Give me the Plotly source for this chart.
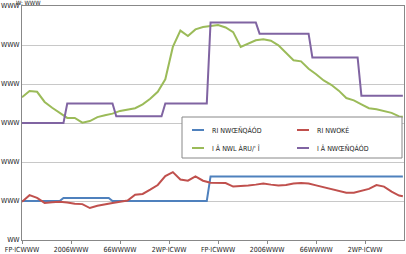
import plotly.graph_objects as go

# ---- data ----
weeks = list(range(0, 102))
weeks_2 = list(range(0, 101, 2)) + [101]

blue_vals = [1.0] * 11 + [1.08] * 13 + [1.0] * 26 + [1.63] * 52
purple_vals = ([3.0] * 12 + [3.5] * 13 + [3.17] * 13 + [3.5] * 12 +
               [5.58] * 13 + [5.29] * 14 + [4.68] * 13 + [3.70] * 12)

red_vals = [0.98, 1.15, 1.08, 0.95, 0.97, 0.98, 0.96, 0.93, 0.92, 0.82,
            0.88, 0.92, 0.95, 0.98, 1.01, 1.16, 1.18, 1.29, 1.41, 1.64,
            1.74, 1.55, 1.52, 1.63, 1.52, 1.47, 1.47, 1.46, 1.37, 1.38,
            1.40, 1.42, 1.45, 1.42, 1.40, 1.41, 1.45, 1.46, 1.45, 1.40,
            1.35, 1.30, 1.25, 1.21, 1.21, 1.27, 1.31, 1.41, 1.37, 1.24,
            1.14, 1.12]
green_vals = [3.66, 3.82, 3.80, 3.54, 3.39, 3.25, 3.13, 3.13, 3.01, 3.05,
              3.15, 3.20, 3.24, 3.31, 3.35, 3.38, 3.48, 3.62, 3.80, 4.12,
              4.95, 5.37, 5.23, 5.40, 5.46, 5.48, 5.51, 5.45, 5.33, 4.95,
              5.03, 5.12, 5.15, 5.11, 4.99, 4.80, 4.61, 4.58, 4.39, 4.25,
              4.09, 3.98, 3.83, 3.64, 3.58, 3.48, 3.38, 3.35, 3.31, 3.26,
              3.17, 3.16]

series_names = ["RI NWŒÑQÁÓD", "RI NWOKÉ", "I Â NWL ÀRU/' Î", "I Â NWŒÑQÁÓD"]

x_tickvals = [0, 13, 26, 39, 52, 65, 78, 91]
x_ticktext = ["FP·ICWWW", "2006WWW", "66WWWW", "2WP·ICWW",
              "FP·ICWWW", "2006WWW", "66WWWW", "2WP·ICWW"]
y_tickvals = [0, 1, 2, 3, 4, 5, 6]
y_ticktext = ["WW", "WWW", "WWW", "WWW", "WWW", "WWW", "WWW"]
unit_label = "W: WWW"

colors = ["#4F81BD", "#C0504D", "#9BBB59", "#8064A2"]

fig = go.Figure()
fig.add_trace(go.Scatter(x=weeks, y=blue_vals, mode="lines", name=series_names[0],
                         line=dict(color=colors[0], width=2)))
fig.add_trace(go.Scatter(x=weeks_2, y=red_vals, mode="lines", name=series_names[1],
                         line=dict(color=colors[1], width=2)))
fig.add_trace(go.Scatter(x=weeks_2, y=green_vals, mode="lines", name=series_names[2],
                         line=dict(color=colors[2], width=2)))
fig.add_trace(go.Scatter(x=weeks, y=purple_vals, mode="lines", name=series_names[3],
                         line=dict(color=colors[3], width=2)))

# ---- manual two-column legend (paper coordinates) ----
W, H = 406, 254
ML, MR, MT, MB = 22, 2, 6, 14
PW, PH = W - ML - MR, H - MT - MB


def px(xpix):
    return (xpix - ML) / PW


def py(ypix):
    return (H - MB - ypix) / PH


shapes = [dict(type="rect", xref="paper", yref="paper",
               x0=px(182), x1=px(402), y0=py(158), y1=py(117),
               fillcolor="white", line=dict(color="#888", width=1), layer="above")]
annotations = []
slots = [(192, 130), (297, 130), (192, 148), (297, 148)]
for i, (sx, sy) in enumerate(slots):
    shapes.append(dict(type="line", xref="paper", yref="paper",
                       x0=px(sx), x1=px(sx + 12), y0=py(sy), y1=py(sy),
                       line=dict(color=colors[i], width=2), layer="above"))
    annotations.append(dict(text=series_names[i], xref="paper", yref="paper",
                            x=px(sx + 18), y=py(sy), xanchor="left", yanchor="middle",
                            showarrow=False, font=dict(size=7, color="#222")))

annotations.append(dict(text=unit_label, xref="paper", yref="paper", x=0.0, y=1.0,
                        xanchor="left", yanchor="bottom", showarrow=False,
                        font=dict(size=6, color="#222"), xshift=-8, yshift=-2))

fig.update_layout(
    width=W, height=H,
    margin=dict(l=ML, r=MR, t=MT, b=MB),
    paper_bgcolor="white", plot_bgcolor="white",
    font=dict(family="DejaVu Sans Condensed, Arial", size=7, color="#222"),
    showlegend=False,
    xaxis=dict(range=[0, 101.3], tickvals=x_tickvals, ticktext=x_ticktext,
               showgrid=False, showline=True, linecolor="#888", mirror=True,
               ticks="outside", ticklen=3, tickcolor="#888", zeroline=False,
               tickfont=dict(size=7), tickangle=0, automargin=False),
    yaxis=dict(range=[0, 6], tickvals=y_tickvals, ticktext=y_ticktext,
               showgrid=True, gridcolor="#c8c8c8", showline=True, linecolor="#888",
               mirror=True, ticks="", zeroline=False, tickfont=dict(size=7),
               automargin=False),
    shapes=shapes,
    annotations=annotations,
)

fig.write_html("out.html")
